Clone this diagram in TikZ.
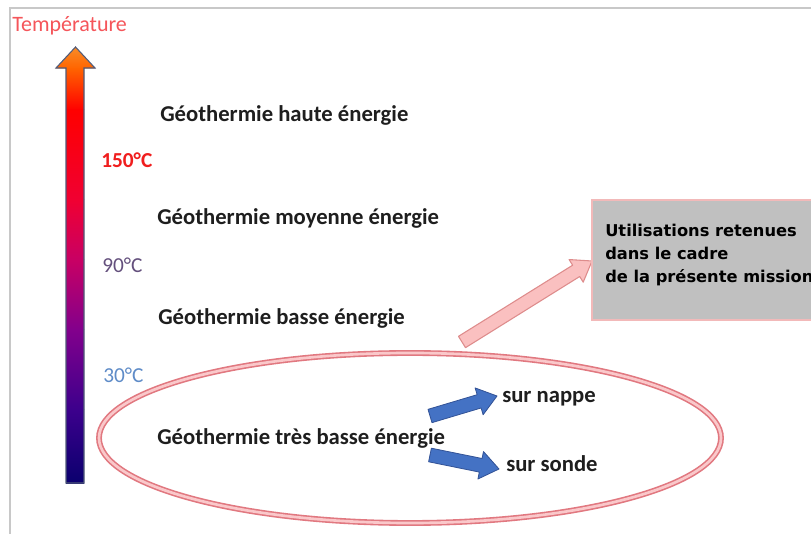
\documentclass[tikz,border=0pt]{standalone}
\usepackage{fontspec}
\setmainfont{Carlito}
\newfontfamily\boxfont{DejaVu Sans}
\usetikzlibrary{calc}
\definecolor{framegray}{RGB}{200,200,200}
\definecolor{temptxt}{RGB}{245,85,90}
\definecolor{t150}{RGB}{240,30,30}
\definecolor{t90}{RGB}{100,80,125}
\definecolor{t30}{RGB}{95,140,200}
\definecolor{labtxt}{RGB}{30,30,30}
\definecolor{ellout}{RGB}{225,120,128}
\definecolor{ellin}{RGB}{250,200,202}
\definecolor{boxgray}{RGB}{192,192,192}
\definecolor{boxpink}{RGB}{242,185,185}
\definecolor{pinkfill}{RGB}{250,192,192}
\definecolor{pinkdraw}{RGB}{222,140,140}
\definecolor{bluefill}{RGB}{68,114,196}
\definecolor{bluedraw}{RGB}{50,82,150}
\definecolor{arrline}{RGB}{80,90,120}
\definecolor{g0}{RGB}{248,140,40}
\definecolor{g1}{RGB}{255,100,0}
\definecolor{g2}{RGB}{255,0,0}
\definecolor{g3}{RGB}{240,0,50}
\definecolor{g4}{RGB}{200,0,100}
\definecolor{g5}{RGB}{130,0,140}
\definecolor{g6}{RGB}{60,0,140}
\definecolor{g7}{RGB}{10,0,110}
\newcommand\blockarrow[6]{%
  \coordinate (ba-h) at ($(#2)!#5!(#1)$);
  \draw[#6] ($(#1)!#3!90:(#2)$) -- ($(ba-h)!#3!90:(#2)$) -- ($(ba-h)!#4!90:(#2)$)
    -- (#2) -- ($(ba-h)!#4!-90:(#2)$) -- ($(ba-h)!#3!-90:(#2)$) -- ($(#1)!#3!-90:(#2)$) -- cycle;}
\begin{document}
\begin{tikzpicture}[x=0.75pt,y=-0.75pt,
  lab/.style={font=\fontsize{17}{20}\selectfont\bfseries, text=labtxt, inner sep=0pt, anchor=base west},
  deg/.style={font=\fontsize{16}{18}\selectfont, inner sep=0pt, anchor=base west},
  boxtxt/.style={font=\boxfont\bfseries\fontsize{12.2}{14}\selectfont, inner sep=0pt, anchor=base west},
  pinkarrow/.style={fill=pinkfill, draw=pinkdraw, line width=0.8pt, line join=round},
  bluearrow/.style={fill=bluefill, draw=bluedraw, line width=0.6pt, line join=round}]
\clip (0,0) rectangle (811,534);
\fill[white] (0,0) rectangle (811,534);
% frame
\draw[framegray, line width=1.5pt] (10,540) -- (10,8) -- (820,8);
% temperature arrow
\shade[top color=g1, bottom color=g2] (66,68) rectangle (84,110);
\shade[top color=g2, bottom color=g3] (66,110) rectangle (84,200);
\shade[top color=g3, bottom color=g4] (66,200) rectangle (84,260);
\shade[top color=g4, bottom color=g5] (66,260) rectangle (84,330);
\shade[top color=g5, bottom color=g6] (66,330) rectangle (84,410);
\shade[top color=g6, bottom color=g7] (66,410) rectangle (84,483.5);
\shade[top color=g0, bottom color=g1] (56,68.5) -- (75.5,47) -- (95,68.5) -- cycle;
\draw[arrline, line width=0.8pt, line join=miter] (66,483) -- (66,68) -- (56,68) -- (75.5,47) -- (95,68) -- (84,68) -- (84,483) -- cycle;
\node[font=\fontsize{16.5}{18}\selectfont, text=temptxt, inner sep=0pt, anchor=base west] (temp) at (12,32) {Température};
% degree labels
\node[deg, text=t150, font=\fontsize{16}{18}\selectfont\bfseries] (d150) at (101,168) {150°C};
\node[deg, text=t90] (d90) at (102,273) {90°C};
\node[deg, text=t30] (d30) at (103,383) {30°C};
% energy labels
\node[lab] (haute) at (160,122) {Géothermie haute énergie};
\node[lab] (moyenne) at (157,225) {Géothermie moyenne énergie};
\node[lab] (basse) at (158,325) {Géothermie basse énergie};
% ellipse
\draw[ellout, double=ellin, line width=1.2pt, double distance=2pt] (410,438) ellipse [x radius=311, y radius=85];
\node[lab] (tres) at (157,445) {Géothermie très basse énergie};
\node[lab] (nappe) at (502,403) {sur nappe};
\node[lab] (sonde) at (506,472) {sur sonde};
% blue arrows
\coordinate (b1t) at (430,416);
\coordinate (b1h) at (497,396);
\coordinate (b2t) at (430,455);
\coordinate (b2h) at (499,469);
\blockarrow{b1t}{b1h}{5.2pt}{10.5pt}{14pt}{bluearrow}
\blockarrow{b2t}{b2h}{5.2pt}{10.5pt}{14pt}{bluearrow}
% pink arrow
\coordinate (pt) at (462,342);
\coordinate (ph) at (592,261);
\blockarrow{pt}{ph}{5pt}{10pt}{14pt}{pinkarrow}
% box
\draw[fill=boxgray, draw=boxpink, line width=2.2pt] (592,200) rectangle (850,320);
\node[boxtxt] (l1) at (605,237) {Utilisations retenues};
\node[boxtxt] (l2) at (605,260) {dans le cadre};
\node[boxtxt] (l3) at (605,283) {de la présente mission};
\end{tikzpicture}
\end{document}
